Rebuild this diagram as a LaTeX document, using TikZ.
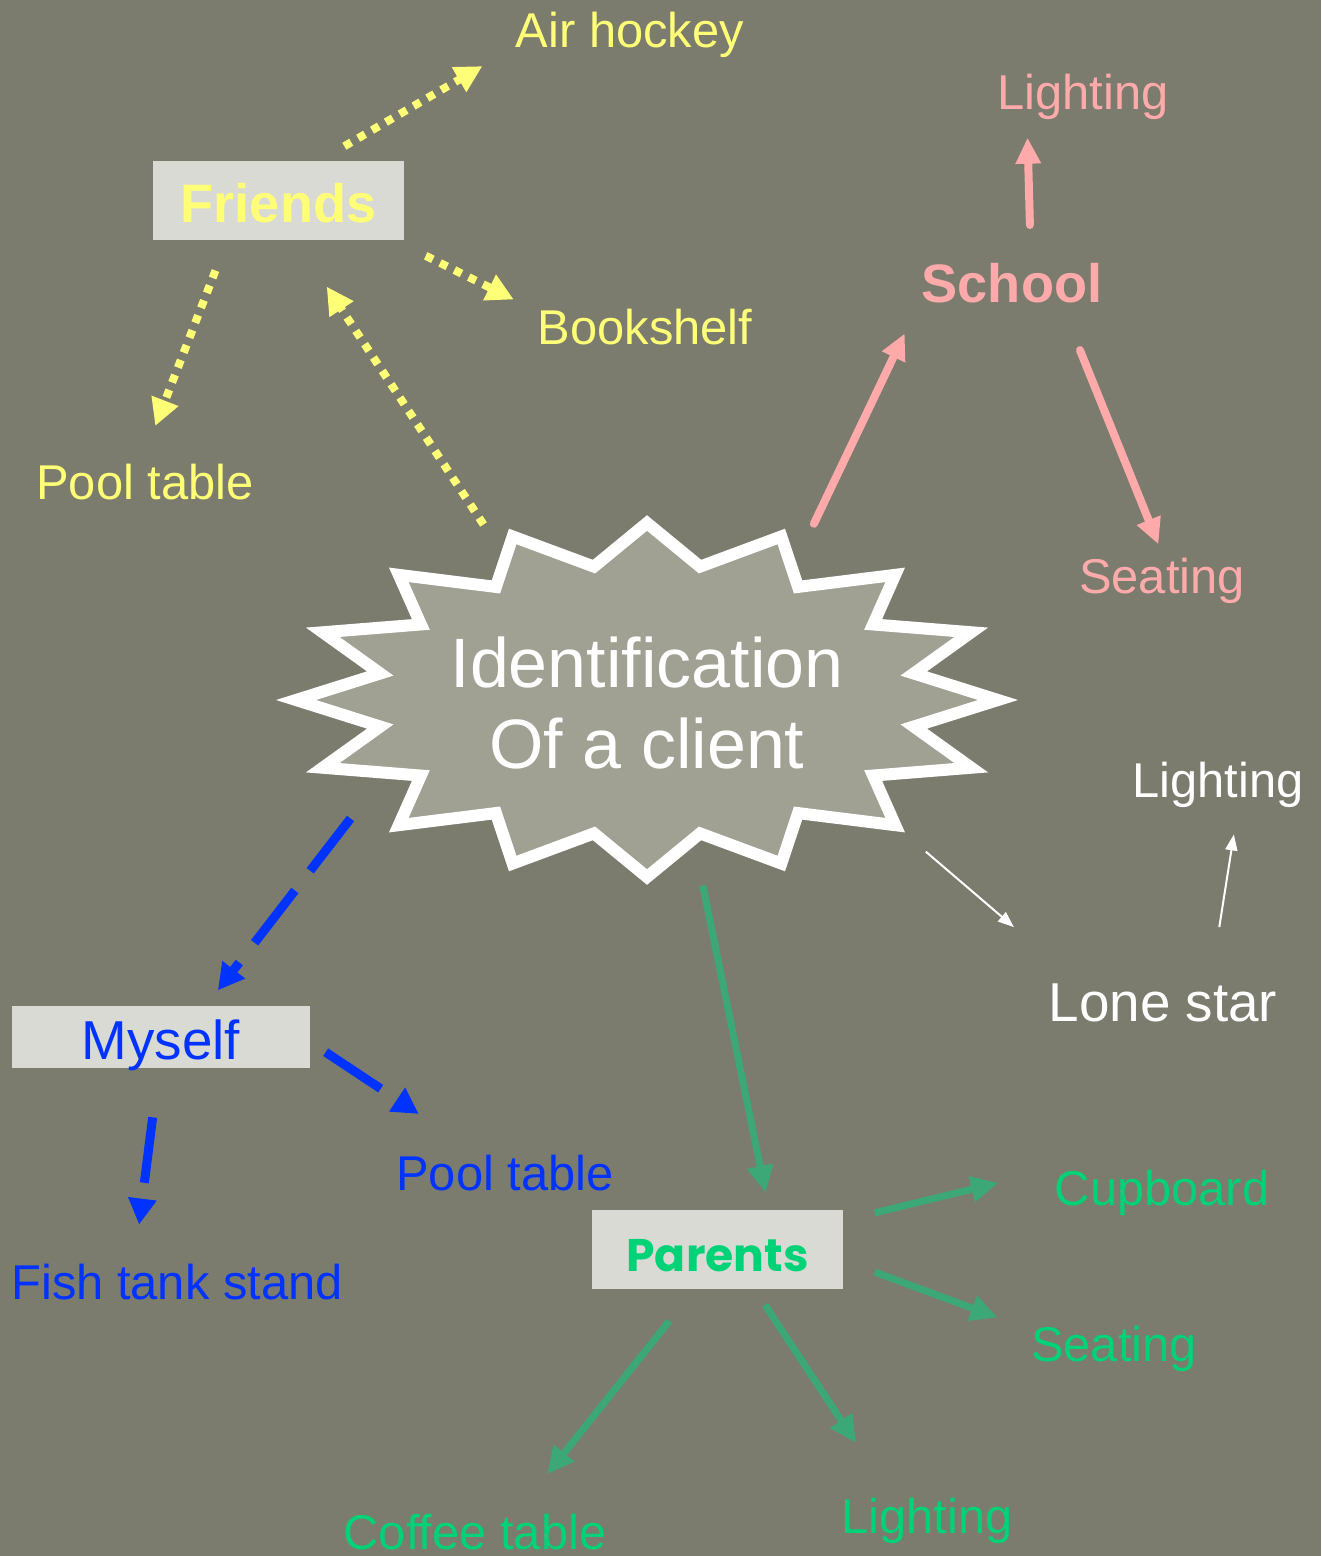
\documentclass[tikz,border=0pt]{standalone}
\usepackage{fontspec}
\setmainfont{Liberation Sans}
\newfontfamily\parentsfont{Poppins}
\usetikzlibrary{arrows.meta,shapes.geometric}

\definecolor{slate}{RGB}{123,124,110}
\definecolor{burstgrey}{RGB}{160,160,147}
\definecolor{boxgrey}{RGB}{218,218,212}
\definecolor{friendyellow}{RGB}{255,255,119}
\definecolor{schoolpink}{RGB}{255,170,170}
\definecolor{selfblue}{RGB}{0,51,255}
\definecolor{parentgreen}{RGB}{0,210,120}
\definecolor{arrowgreen}{RGB}{60,168,120}

\begin{document}
\begin{tikzpicture}[
        txt/.style={inner sep=0pt, text height=10.2pt, text depth=2.9pt, font=\fontsize{13.9}{16}\selectfont},
        bigtxt/.style={inner sep=0pt, text height=11.4pt, text depth=3.3pt, font=\fontsize{15.6}{18}\selectfont},
        boldtxt/.style={inner sep=0pt, text height=11.2pt, text depth=3.2pt, font=\fontsize{15.4}{18}\selectfont\bfseries},
        boxnode/.style={fill=boxgrey, inner sep=0pt, text height=13.6pt, text depth=1pt},
        burst/.style={draw=white, fill=burstgrey, line width=0.12cm, line join=miter},
        clientnode/.style={ellipse, inner sep=0pt, minimum width=7.44cm, minimum height=3.68cm, align=center, text=white, font=\fontsize{19.9}{23.3}\selectfont},
        yarrow/.style={draw=friendyellow, line width=0.08cm, dash pattern=on 0.08cm off 0.08cm, -{Triangle[length=0.27cm,width=0.27cm]}},
        parrow/.style={draw=schoolpink, line width=0.08cm, line cap=round, -{Triangle[length=0.26cm,width=0.24cm]}},
        warrow/.style={draw=white, line width=0.02cm, -{Triangle[length=0.16cm,width=0.12cm]}},
        barrow/.style={draw=selfblue, line width=0.09cm, dash pattern=on 0.66cm off 0.25cm, -{Triangle[length=0.26cm,width=0.27cm]}},
        garrow/.style={draw=arrowgreen, line width=0.07cm, -{Triangle[length=0.27cm,width=0.25cm]}}
    ]

        \fill[slate] (0,0) rectangle (13.21,-15.56);
        \useasboundingbox (0,0) rectangle (13.21,-15.56);

        % the burst in the middle
        \begin{scope}[shift={(6.47,-7)}]
            \draw[burst] (0:3.51cm and 1.77cm)
                \foreach \a in {0,22.5,...,337.5}{ -- (\a:3.51cm and 1.77cm) -- (\a+11.25:2.72cm and 1.36cm)} -- cycle;
        \end{scope}
        \node[clientnode] (client) at (6.47,-7.03) {Identification\\Of a client};

        % Friends
        \node[boxnode, minimum width=2.51cm, minimum height=0.79cm, text=friendyellow, font=\fontsize{15.4}{18}\selectfont\bfseries] (friends_box) at (2.785,-2.005) {Friends};
        \node[txt, text=friendyellow] (friends_air) at (6.30,-0.35) {Air hockey};
        \node[txt, text=friendyellow] (friends_shelf) at (6.45,-3.32) {Bookshelf};
        \node[txt, text=friendyellow] (friends_pool) at (1.45,-4.87) {Pool table};
        \draw[yarrow, shorten <=0.13cm, shorten >=0.55cm] (client.133.2) -- (friends_box.294.9);
        \draw[yarrow, shorten <=0.28cm, shorten >=0.38cm] (friends_box.44.6) -- (friends_air.186.5);
        \draw[yarrow, shorten <=0.34cm, shorten >=0.26cm] (friends_box.-19.9) -- (friends_shelf.169.8);
        \draw[yarrow, shorten <=0.32cm, shorten >=0.40cm] (friends_box.218.5) -- (friends_pool.100.8);

        % School
        \node[boldtxt, text=schoolpink] (school_root) at (10.12,-2.88) {School};
        \node[txt, text=schoolpink] (school_light) at (10.83,-0.97) {Lighting};
        \node[txt, text=schoolpink] (school_seat) at (11.62,-5.81) {Seating};
        \draw[parrow, shorten <=0.14cm, shorten >=0.38cm] (client.46.5) -- (school_root.187);
        \draw[parrow, shorten <=0.37cm, shorten >=0.17cm] (school_root.54.2) -- (school_light.203.5);
        \draw[parrow, shorten <=0.39cm, shorten >=0.14cm] (school_root.-26.5) -- (school_seat.86.5);

        % Lone star
        \node[bigtxt, text=white] (star_root) at (11.63,-10.07) {Lone star};
        \node[txt, text=white] (star_light) at (12.18,-7.85) {Lighting};
        \draw[warrow, shorten <=0.25cm, shorten >=0.82cm] (client.-27.7) -- (star_root.163.1);
        \draw[warrow, shorten <=0.54cm, shorten >=0.26cm] (star_root.29.2) -- (star_light.-50.3);

        % Myself
        \node[boxnode, minimum width=2.98cm, minimum height=0.62cm, text=selfblue, font=\fontsize{15.6}{18}\selectfont] (self_box) at (1.61,-10.37) {Myself};
        \node[txt, text=selfblue] (self_pool) at (5.05,-11.78) {Pool table};
        \node[txt, text=selfblue] (self_fish) at (1.77,-12.87) {Fish tank stand};
        \draw[barrow, shorten <=0.03cm, shorten >=0.19cm] (client.201.8) -- (self_box.35.2);
        \draw[barrow, shorten <=0.18cm, shorten >=0.73cm] (self_box.-2.3) -- (self_pool.137.8);
        \draw[barrow, shorten <=0.49cm, shorten >=0.39cm] (self_box.266.1) -- (self_fish.151.1);

        % Parents
        \node[boxnode, minimum width=2.51cm, minimum height=0.79cm, text=parentgreen, font=\fontsize{13}{16}\parentsfont\bfseries] (parents_box) at (7.175,-12.495) {Parents};
        \node[txt, text=parentgreen] (parents_cup) at (11.62,-11.93) {Cupboard};
        \node[txt, text=parentgreen] (parents_seat) at (11.14,-13.49) {Seating};
        \node[txt, text=parentgreen] (parents_coffee) at (4.75,-15.37) {Coffee table};
        \node[txt, text=parentgreen] (parents_light) at (9.27,-15.21) {Lighting};
        \draw[garrow, shorten >=0.17cm] (client.-73.2) -- (parents_box.38.4);
        \draw[garrow, shorten <=0.32cm, shorten >=0.575cm] (parents_box.13.7) -- (parents_cup.north west);
        \draw[garrow, shorten <=0.33cm, shorten >=0.35cm] (parents_box.-5.5) -- (parents_seat.167.9);
        \draw[garrow, shorten <=0.40cm, shorten >=0.50cm] (parents_box.240.3) -- (parents_coffee.30.9);
        \draw[garrow, shorten <=0.18cm, shorten >=0.65cm] (parents_box.-47.3) -- (parents_light.146);

    \end{tikzpicture}
\end{document}
